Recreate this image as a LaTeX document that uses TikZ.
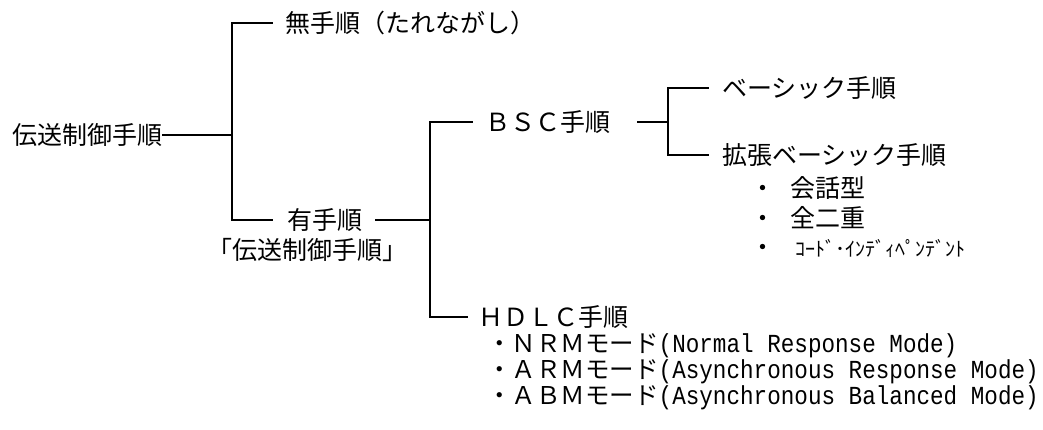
\documentclass[tikz,border=0pt]{standalone}
\usepackage{fontspec}
\newfontfamily\jp{Noto Sans CJK JP}
\newfontfamily\mono[FakeStretch=0.87]{Liberation Mono}
\tikzset{
  lbl/.style={anchor=west, inner sep=0pt, font=\jp\fontsize{25}{30}\selectfont},
  hd/.style={anchor=west, inner sep=0pt, font=\jp\fontsize{24.5}{30}\selectfont},
  conn/.style={line width=1.6pt, line cap=rect}
}
\newcommand{\mn}[1]{{\mono\fontsize{26}{28}\selectfont #1}}
\begin{document}
\begin{tikzpicture}[x=1pt,y=-1pt]
\useasboundingbox (0,0) rectangle (1043,430);
% level 0
\node[lbl] (root) at (12,135) {伝送制御手順};
% level 1
\node[lbl] (mu) at (285,23) {無手順（たれながし）};
\node[lbl] (yu) at (287,220) {有手順};
\node[lbl] (yu2) at (207,250) {「伝送制御手順」};
% level 2
\node[lbl] (bsc) at (485,122) {ＢＳＣ手順};
\node[lbl] (hdlc) at (478,317) {ＨＤＬＣ手順};
% level 3
\node[lbl] (basic) at (722,88) {ベーシック手順};
\node[lbl] (ext) at (722,155) {拡張ベーシック手順};
\node[lbl] (b1) at (750,188) {・\hspace{15pt}会話型};
\node[lbl] (b2) at (750,218) {・\hspace{15pt}全二重};
\node[lbl] (b3) at (750,248) {・\hspace{20pt}{\fontsize{20}{24}\selectfont ｺｰﾄﾞ･ｲﾝﾃﾞｨﾍﾟﾝﾃﾞﾝﾄ}};
\node[hd] (h1) at (487,346) {・ＮＲＭモード\mn{(Normal Response Mode)}};
\node[hd] (h2) at (487,372) {・ＡＲＭモード\mn{(Asynchronous Response Mode)}};
\node[hd] (h3) at (487,398) {・ＡＢＭモード\mn{(Asynchronous Balanced Mode)}};
% junctions
\coordinate (ja) at (232,135);
\coordinate (ja1) at (232,23);
\coordinate (ja2) at (232,220);
\coordinate (jb) at (430,220);
\coordinate (jb1) at (430,122);
\coordinate (jb2) at (430,317);
\coordinate (jc) at (668,122);
\coordinate (jc1) at (668,88);
\coordinate (jc2) at (668,155);
% connectors
\draw[conn] (root.east) -- (ja);
\draw[conn] ([xshift=-13pt]mu.west) -- (ja1) -- (ja2) -- ([xshift=-15pt]yu.west);
\draw[conn] ([xshift=13pt]yu.east) -- (jb);
\draw[conn] ([xshift=-13pt]bsc.west) -- (jb1) -- (jb2) -- ([xshift=-11pt]hdlc.west);
\draw[conn] ([xshift=27pt]bsc.east) -- (jc);
\draw[conn] ([xshift=-14pt]basic.west) -- (jc1) -- (jc2) -- ([xshift=-14pt]ext.west);
\end{tikzpicture}
\end{document}
